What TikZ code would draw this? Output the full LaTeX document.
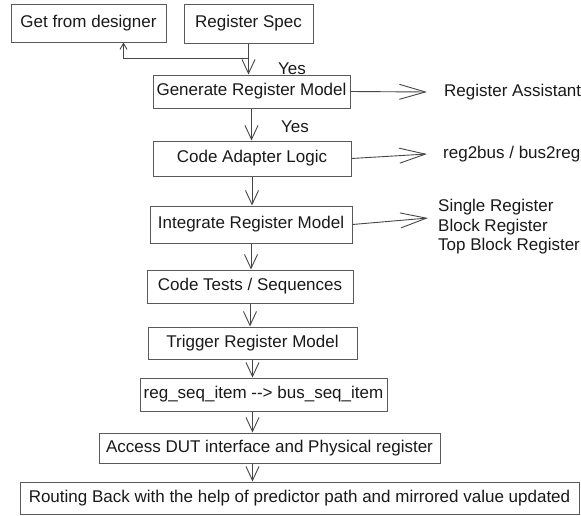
\documentclass[tikz,border=0pt]{standalone}
\usepackage{fontspec}
\setmainfont{Liberation Sans}
\usetikzlibrary{arrows.meta}
\definecolor{linegray}{RGB}{70,70,70}
\definecolor{boxgray}{RGB}{90,90,90}

\begin{document}
\begin{tikzpicture}[x=1pt,y=-1pt]
\tikzstyle{every node}+=[inner sep=0pt,text=black!90,font=\fontsize{17}{20}\selectfont]
\tikzstyle{box}=[draw=boxgray,line width=1pt,minimum height=33pt]
\tikzstyle{arr}=[draw=linegray,line width=0.9pt,-{Straight Barb[length=14pt,width=13pt]}]
\tikzstyle{smallarr}=[draw=linegray,line width=0.9pt,-{Straight Barb[length=6pt,width=7pt]}]
\tikzstyle{bigarr}=[draw=linegray,line width=0.9pt,-{Straight Barb[length=26pt,width=15pt]}]
\useasboundingbox (0,0) rectangle (581,515);
% boxes
\node[box,minimum width=155pt,minimum height=38pt] (designer) at (88.5,23) {Get from designer};
\node[box,minimum width=129pt,minimum height=39pt] (spec) at (248.5,23.5) {Register Spec};
\node[box,minimum width=197pt] (genmodel) at (251.5,91.5) {Generate Register Model};
\node[box,minimum width=198pt,minimum height=35pt] (adapter) at (252,158.5) {Code Adapter Logic};
\node[box,minimum width=202pt,minimum height=37pt] (integrate) at (251,224.5) {Integrate Register Model};
\node[box,minimum width=206pt] (tests) at (250,286.5) {Code Tests / Sequences};
\node[box,minimum width=209pt,minimum height=32pt] (trigger) at (252.5,343) {Trigger Register Model};
\node[box,minimum width=247pt] (regseq) at (263.5,394.5) {reg\_seq\_item -\kern0pt-> bus\_seq\_item};
\node[box,minimum width=341pt,minimum height=30pt] (access) at (269.5,448) {Access DUT interface and Physical register};
\node[box,minimum width=559pt,minimum height=32pt] (routing) at (299.5,498) {Routing Back with the help of predictor path and mirrored value updated};
% labels
\node (yes1) at (292,69) {Yes};
\node (yes2) at (295,127) {Yes};
\node[anchor=west] (assist) at (444,92) {Register Assistant};
\node[anchor=west] (busreg) at (443,154) {reg2bus / bus2reg};
\node[anchor=west,align=left,font=\fontsize{17}{19.5}\selectfont] (levels) at (438,227) {Single Register\\Block Register\\Top Block Register};
% flow
\draw[arr] (spec.south) -- (spec.south |- genmodel.north);
\draw[smallarr] (spec.south) ++(0,15) -| ([xshift=35pt]designer.south);
\draw[arr] (genmodel.south) -- (genmodel.south |- adapter.north);
\draw[arr] (adapter.south) -- (adapter.south |- integrate.north);
\draw[arr] (integrate.south) -- (integrate.south |- tests.north);
\draw[arr] (tests.south) -- (tests.south |- trigger.north);
\draw[arr] (trigger.south) -- (trigger.south |- regseq.north);
\draw[arr] (regseq.south -| trigger.south) -- (access.north -| trigger.south);
\draw[arr] (access.south -| trigger.south) -- (routing.north -| trigger.south);
% side arrows
\draw[bigarr] (genmodel.east) -- ([xshift=-17pt]assist.west);
\draw[bigarr] (adapter.east) -- ([xshift=-16pt]busreg.west);
\draw[bigarr] (integrate.east) -- ([xshift=-10pt,yshift=9pt]levels.west);
\end{tikzpicture}
\end{document}
